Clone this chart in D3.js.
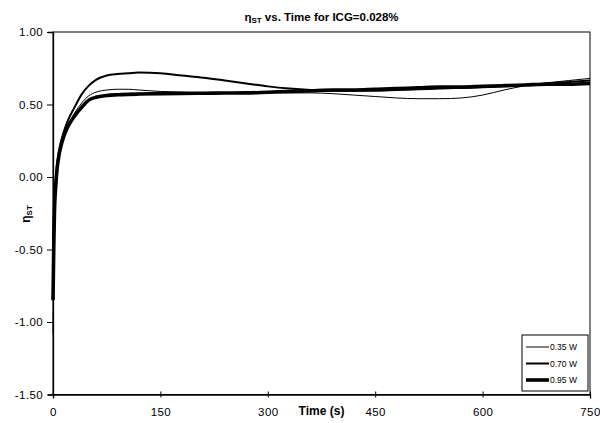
<!DOCTYPE html>
<html><head><meta charset="utf-8">
<script src="https://cdn.jsdelivr.net/npm/d3@7"></script>
<style>body{margin:0;background:#fff}svg{display:block}text{font-family:"Liberation Sans",Arial,sans-serif;fill:#000}</style>
</head><body><svg id="c" width="600" height="423"></svg>
<script>
const times = [0,1,2,4,6,8,10,15,20,30,40,50,60,75,90,105,120,150,180,210,240,270,300,330,360,390,420,450,480,510,540,570,600,630,660,690,720,750];
const s035 = [-1.08,-0.7,-0.4,-0.1,0.05,0.13,0.2,0.29,0.35,0.44,0.51,0.56,0.585,0.6,0.605,0.605,0.6,0.59,0.585,0.58,0.58,0.58,0.58,0.58,0.58,0.575,0.565,0.555,0.545,0.54,0.54,0.545,0.565,0.6,0.63,0.65,0.665,0.68];
const s070 = [-0.45,-0.3,-0.15,0.0,0.1,0.17,0.22,0.31,0.38,0.48,0.57,0.63,0.67,0.7,0.71,0.715,0.72,0.715,0.7,0.685,0.665,0.645,0.625,0.61,0.6,0.595,0.595,0.595,0.6,0.605,0.61,0.615,0.62,0.625,0.635,0.645,0.655,0.665];
const s095 = [-0.85,-0.5,-0.25,-0.05,0.07,0.14,0.19,0.28,0.34,0.42,0.48,0.53,0.55,0.562,0.567,0.57,0.572,0.575,0.577,0.578,0.579,0.58,0.585,0.59,0.595,0.6,0.6,0.605,0.61,0.615,0.62,0.62,0.625,0.63,0.635,0.64,0.64,0.645];
const seriesNames = ["0.35 W","0.70 W","0.95 W"];
const xTicks = [0,150,300,450,600,750];
const yTicks = [1.0,0.5,0.0,-0.5,-1.0,-1.5];

const svg = d3.select("#c");
const L=53,R=590,T=32,B=394.5;
const x = d3.scaleLinear().domain([0,750]).range([L,R]);
const y = d3.scaleLinear().domain([-1.5,1.0]).range([B,T]);
const widths=[1,2,3.6];

svg.append("rect").attr("x",L).attr("y",T).attr("width",R-L).attr("height",B-T).attr("fill","none").attr("stroke","#000").attr("stroke-width",1);

const fmtY = d => d.toFixed(2);
const xa = svg.append("g").attr("transform",`translate(0,${B})`)
  .call(d3.axisBottom(x).tickValues(xTicks).tickFormat(d3.format("d")).tickSize(4).tickPadding(8));
const ya = svg.append("g").attr("transform",`translate(${L},0)`)
  .call(d3.axisLeft(y).tickValues(yTicks).tickFormat(fmtY).tickSize(5).tickPadding(5));
[xa,ya].forEach(a=>{a.select(".domain").attr("stroke","#000").attr("stroke-width",1.3);
  a.selectAll("text").style("font-size","11.5px").style("letter-spacing","0.4px").attr("fill","#000");
  a.selectAll("line").attr("stroke","#000");});
ya.selectAll(".tick line").attr("x2",-6).attr("x1",1);
xa.selectAll(".tick line").attr("y1",-3).attr("y2",3);
xa.selectAll("text").attr("dy","0.85em");

const line = d3.line().x((d,i)=>x(times[i])).y(d=>y(d)).curve(d3.curveMonotoneX);
[s035,s070,s095].forEach((s,k)=>{
  svg.append("path").datum(s).attr("d",line).attr("fill","none").attr("stroke","#000")
    .attr("stroke-width",widths[k]).attr("stroke-linejoin","round");
});

const tt = svg.append("text").attr("x",(L+R)/2).attr("y",21).attr("text-anchor","middle")
  .style("font-size","11.5px").style("font-weight","bold");
tt.append("tspan").text("η");
tt.append("tspan").text("ST").attr("baseline-shift","-25%").style("font-size","8px");
tt.append("tspan").text(" vs. Time for ICG=0.028%");

svg.append("text").attr("x",(L+R)/2).attr("y",415).attr("text-anchor","middle")
  .style("font-size","12px").style("font-weight","bold").text("Time (s)");

const yl = svg.append("text").attr("transform","translate(30,214) rotate(-90)").attr("text-anchor","middle")
  .style("font-size","12px").style("font-weight","bold");
yl.append("tspan").text("η");
yl.append("tspan").text("ST").attr("baseline-shift","-25%").style("font-size","8px");

const lg = svg.append("g");
lg.append("rect").attr("x",522).attr("y",335).attr("width",66).attr("height",56).attr("fill","#fff").attr("stroke","#000").attr("stroke-width",1);
seriesNames.forEach((n,k)=>{
  const yy = 347+k*16.5;
  lg.append("line").attr("x1",526).attr("x2",549).attr("y1",yy).attr("y2",yy).attr("stroke","#000").attr("stroke-width",widths[k]);
  lg.append("text").attr("x",550).attr("y",yy+3).style("font-size","8.5px").text(n);
});
</script></body></html>
